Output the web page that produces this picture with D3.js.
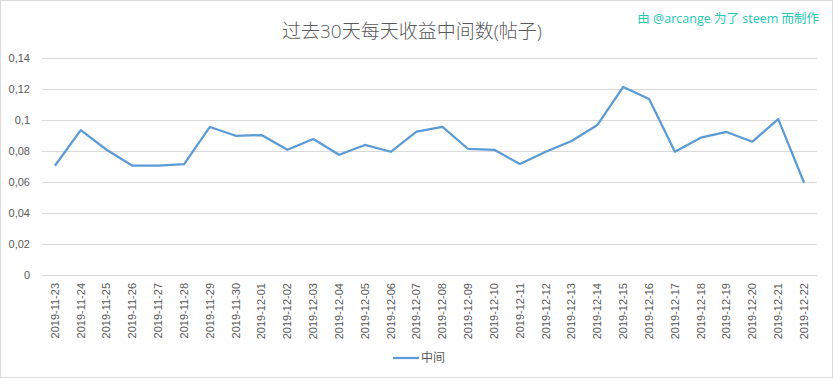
<!DOCTYPE html>
<html>
<head>
<meta charset="utf-8">
<script src="https://cdn.jsdelivr.net/npm/d3@7"></script>
<style>
  body { margin: 0; background: #fff; }
  svg { display: block; font-family: "Open Sans", "Noto Sans CJK SC", sans-serif; }
</style>
</head>
<body>
<div id="chart"></div>
<script>
// chart data
var dates = ["2019-11-23","2019-11-24","2019-11-25","2019-11-26","2019-11-27","2019-11-28",
  "2019-11-29","2019-11-30","2019-12-01","2019-12-02","2019-12-03","2019-12-04","2019-12-05",
  "2019-12-06","2019-12-07","2019-12-08","2019-12-09","2019-12-10","2019-12-11","2019-12-12",
  "2019-12-13","2019-12-14","2019-12-15","2019-12-16","2019-12-17","2019-12-18","2019-12-19",
  "2019-12-20","2019-12-21","2019-12-22"];
var median = [0.0705, 0.0935, 0.0808, 0.0705, 0.0705, 0.0716, 0.0955, 0.0898, 0.0903, 0.0808,
  0.0877, 0.0776, 0.0839, 0.0795, 0.0925, 0.0955, 0.0813, 0.0808, 0.0716, 0.0795,
  0.0865, 0.0968, 0.1213, 0.1135, 0.0795, 0.0886, 0.0923, 0.0860, 0.1006, 0.0595];
var yTicks = [0, 0.02, 0.04, 0.06, 0.08, 0.1, 0.12, 0.14];
var seriesName = "中间";
var title = "过去30天每天收益中间数(帖子)";
var credit = "由 @arcange 为了 steem 而制作";

var W = 833, H = 378;
var margin = { left: 42, right: 16, top: 58, bottom: 103 };
var width = W - margin.left - margin.right;
var height = H - margin.top - margin.bottom;

var svg = d3.select("#chart").append("svg")
  .attr("width", W)
  .attr("height", H);

// outer frame
svg.append("rect")
  .attr("x", 0.5).attr("y", 0.5)
  .attr("width", W - 1).attr("height", H - 1)
  .attr("fill", "#fff")
  .attr("stroke", "#d9d9d9");

svg.append("text")
  .attr("x", 412)
  .attr("y", 38)
  .attr("text-anchor", "middle")
  .attr("font-size", "19px")
  .attr("font-weight", 300)
  .attr("fill", "#595959")
  .text(title);

svg.append("text")
  .attr("x", 819)
  .attr("y", 23)
  .attr("text-anchor", "end")
  .attr("font-size", "12.5px")
  .attr("fill", "#22c8b2")
  .text(credit);

var g = svg.append("g")
  .attr("transform", "translate(" + margin.left + "," + margin.top + ")");

var x = d3.scaleBand()
  .domain(dates)
  .range([0, width]);

var y = d3.scaleLinear()
  .domain([0, 0.14])
  .range([height, 0]);

var fmt = function(v) { return v === 0 ? "0" : String(+v.toFixed(2)).replace(".", ","); };

// y gridlines + labels
var yAxis = g.append("g")
  .call(d3.axisLeft(y).tickValues(yTicks).tickSize(-width).tickPadding(12).tickFormat(fmt));
yAxis.select(".domain").remove();
yAxis.selectAll("line").attr("stroke", "#d9d9d9");
yAxis.selectAll("text")
  .attr("font-size", "11px")
  .attr("fill", "#595959");

// x axis labels
var xAxis = g.append("g")
  .attr("transform", "translate(0," + height + ")")
  .call(d3.axisBottom(x).tickSize(0));
xAxis.select(".domain").attr("stroke", "#d9d9d9");
xAxis.selectAll("text")
  .attr("font-size", "11px")
  .attr("fill", "#595959")
  .attr("text-anchor", "end")
  .attr("transform", "rotate(-90)")
  .attr("x", -8)
  .attr("y", 0)
  .attr("dy", "0.35em");

var line = d3.line()
  .x(function(d, i) { return x(dates[i]) + x.bandwidth() / 2; })
  .y(function(d) { return y(d); });

g.append("path")
  .datum(median)
  .attr("fill", "none")
  .attr("stroke", "#5b9bd5")
  .attr("stroke-width", 2.25)
  .attr("stroke-linejoin", "round")
  .attr("d", line);

// legend
var lg = svg.append("g").attr("transform", "translate(393,358)");
lg.append("line")
  .attr("x1", 0).attr("x2", 26)
  .attr("stroke", "#5b9bd5")
  .attr("stroke-width", 2.25);
lg.append("text")
  .attr("x", 28)
  .attr("y", 0)
  .attr("dy", "0.35em")
  .attr("font-size", "12px")
  .attr("fill", "#595959")
  .text(seriesName);
</script>
</body>
</html>
